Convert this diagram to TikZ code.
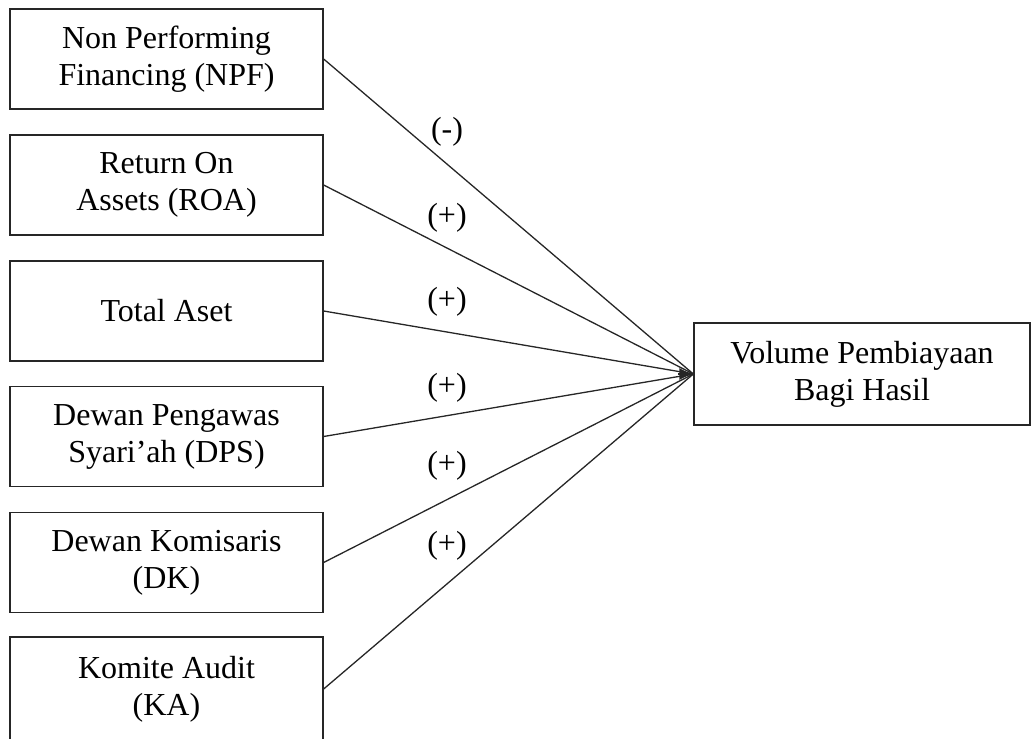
\documentclass[tikz,border=0pt]{standalone}
\usepackage{fontspec}
\setmainfont{Liberation Serif}
\usetikzlibrary{arrows.meta}
\begin{document}
\begin{tikzpicture}[x=1pt,y=-1pt,
  varbox/.style={draw=black!85, line width=1.3pt, minimum width=313pt, minimum height=100pt,
    inner sep=0pt, align=center, font=\fontsize{32}{37}\selectfont},
  sign/.style={font=\fontsize{32}{37}\selectfont, inner sep=0pt},
  link/.style={draw=black!85, line width=1.3pt}]
\useasboundingbox (0,0) rectangle (1032,738);
\begin{scope}
\clip (0,0) rectangle (1032,738);
\node[varbox] (npf) at (166.5,59) {Non Performing\\Financing (NPF)};
\node[varbox] (roa) at (166.5,185) {Return On\\Assets (ROA)};
\node[varbox] (ta)  at (166.5,311) {Total Aset};
\node[varbox] (dps) at (166.5,436.5) {Dewan Pengawas\\Syari’ah (DPS)};
\node[varbox] (dk)  at (166.5,562.5) {Dewan Komisaris\\(DK)};
\node[varbox, minimum height=104pt] (ka) at (166.5,689) {Komite Audit\\(KA)};
\node[varbox, minimum width=336pt, minimum height=102pt] (vbh) at (862,374) {Volume Pembiayaan\\Bagi Hasil};
\end{scope}
\foreach \s in {npf,roa,ta,dps,dk,ka}{
  \draw[link] (\s.east) -- (vbh.west);
}
\coordinate (tail) at ([xshift=-15pt]vbh.west);
\draw[link, -{Latex[length=14pt,width=12pt]}] (tail) -- (vbh.west);
\node[sign] (s1) at (447,132) {(-)};
\node[sign] (s2) at (447,218) {(+)};
\node[sign] (s3) at (447,302) {(+)};
\node[sign] (s4) at (447,388) {(+)};
\node[sign] (s5) at (447,466) {(+)};
\node[sign] (s6) at (447,546) {(+)};
\end{tikzpicture}
\end{document}
